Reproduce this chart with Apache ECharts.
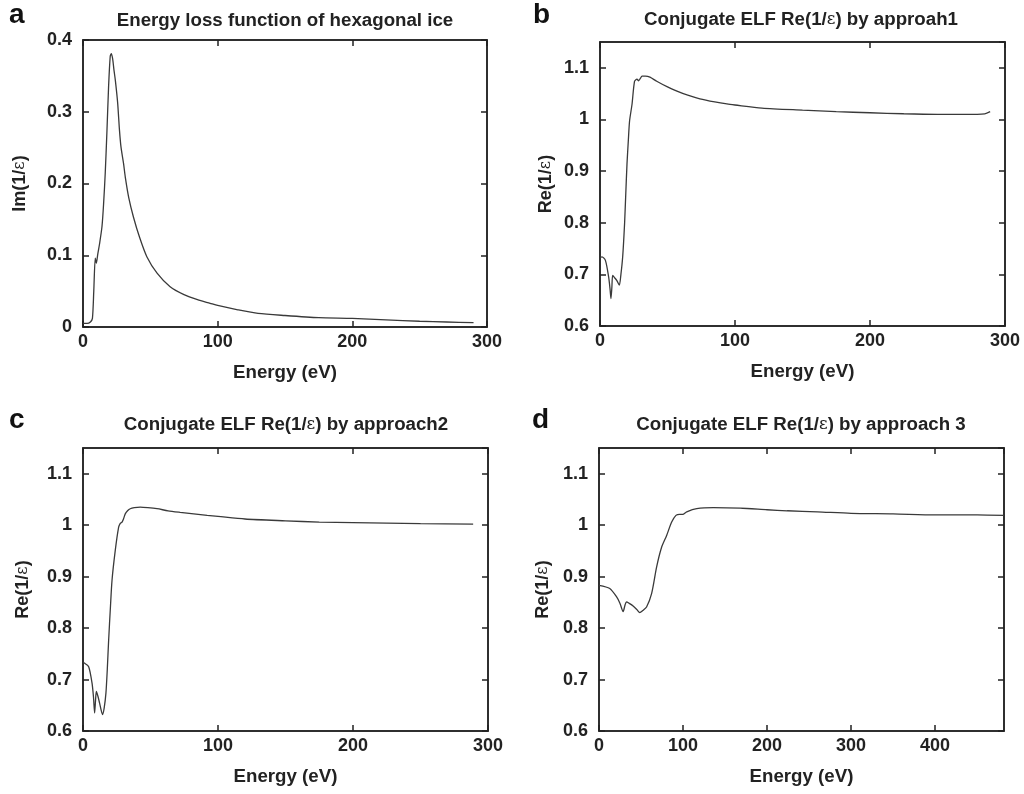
<!DOCTYPE html>
<html>
<head>
<meta charset="utf-8">
<script src="https://cdn.jsdelivr.net/npm/echarts@6/dist/echarts.min.js"></script>
<style>html,body{margin:0;padding:0;background:#fff}#c{width:1024px;height:794px}</style>
</head>
<body>
<div id="c"></div>
<script>
// Panel a: Energy loss function Im(1/eps)
const energyA = [0, 3, 5.5, 7, 8, 9.1, 9.9, 11, 12.3, 14.1, 15.3, 16.5, 17.8, 19, 20.2, 21, 22, 23, 24, 25.7, 27.1, 28.2, 30.1, 31.4, 34, 37.5, 42, 47.4, 55, 64.7, 75, 85, 94.4, 100, 115, 130, 150, 175, 200, 225, 250, 270, 290];
const valueA  = [0.005, 0.005, 0.007, 0.012, 0.05, 0.096, 0.089, 0.102, 0.116, 0.14, 0.172, 0.214, 0.274, 0.335, 0.377, 0.381, 0.374, 0.358, 0.344, 0.313, 0.274, 0.251, 0.228, 0.209, 0.18, 0.153, 0.125, 0.098, 0.075, 0.056, 0.045, 0.038, 0.033, 0.030, 0.024, 0.019, 0.016, 0.013, 0.012, 0.010, 0.008, 0.007, 0.006];
// Panel b: approach 1
const energyB = [0, 1.5, 4, 6.4, 7.5, 8.1, 8.8, 9.4, 11, 12.5, 14.3, 15.5, 16.8, 18.2, 19, 20, 21, 21.9, 23.7, 25.6, 27.4, 28.6, 30, 31.1, 33.6, 37, 42, 50, 57, 65, 74, 85, 94, 100, 120, 150, 175, 200, 225, 250, 270, 285, 289];
const valueB  = [0.733, 0.734, 0.727, 0.695, 0.67, 0.653, 0.675, 0.698, 0.693, 0.688, 0.679, 0.70, 0.734, 0.798, 0.85, 0.914, 0.96, 0.997, 1.029, 1.074, 1.078, 1.075, 1.08, 1.084, 1.084, 1.082, 1.074, 1.063, 1.055, 1.047, 1.040, 1.034, 1.030, 1.028, 1.022, 1.018, 1.015, 1.013, 1.011, 1.010, 1.010, 1.011, 1.015];
// Panel c: approach 2
const energyC = [0, 1, 4.2, 6.7, 7.8, 8.6, 9.3, 9.9, 11, 12.3, 13.5, 14.5, 15.7, 17, 18, 19, 20.3, 21.5, 23.9, 26.4, 27.5, 28.9, 30, 31.3, 33, 35, 38, 42.4, 48, 54.8, 63, 72, 82, 92, 100, 120, 150, 175, 200, 250, 289];
const valueC  = [0.733, 0.732, 0.725, 0.693, 0.665, 0.635, 0.66, 0.677, 0.668, 0.654, 0.64, 0.632, 0.645, 0.674, 0.72, 0.777, 0.84, 0.893, 0.951, 0.996, 1.003, 1.006, 1.012, 1.022, 1.028, 1.032, 1.034, 1.035, 1.034, 1.032, 1.028, 1.025, 1.022, 1.019, 1.017, 1.012, 1.0085, 1.006, 1.005, 1.003, 1.002];
// Panel d: approach 3
const energyD = [0, 12.8, 20.8, 25, 28.7, 31, 32.7, 36, 40.6, 45, 48.6, 52, 56.6, 62.6, 68.6, 74.5, 80.5, 86.5, 91.6, 96, 99.6, 104.4, 116.3, 136, 168, 200, 224, 260, 300, 350, 400, 450, 482];
const valueD  = [0.883, 0.877, 0.861, 0.848, 0.832, 0.845, 0.851, 0.848, 0.843, 0.836, 0.830, 0.834, 0.841, 0.867, 0.919, 0.957, 0.980, 1.006, 1.019, 1.021, 1.021, 1.026, 1.032, 1.034, 1.033, 1.030, 1.028, 1.026, 1.023, 1.022, 1.020, 1.020, 1.019];

const panelLetters = ['a', 'b', 'c', 'd'];
const panelTitles = [
  ['Energy loss function of hexagonal ice', null],
  ['Conjugate ELF Re(1/', ') by approah1'],
  ['Conjugate ELF Re(1/', ') by approach2'],
  ['Conjugate ELF Re(1/', ') by approach 3']
];
const yNames = [['Im(1/', ')'], ['Re(1/', ')'], ['Re(1/', ')'], ['Re(1/', ')']];
const xName = 'Energy (eV)';

const FONT = '"Liberation Sans", Arial, Helvetica, sans-serif';
const INK = '#222';
const eps = '\u03b5';

const grids = [
  {left: 83, top: 40, width: 404, height: 287},
  {left: 600, top: 42, width: 405, height: 284},
  {left: 83, top: 448, width: 405, height: 283},
  {left: 599, top: 448, width: 405, height: 283}
];
const xRanges = [[0, 300, 100], [0, 300, 100], [0, 300, 100], [0, 482, 100]];
const yRanges = [[0, 0.4, 0.1], [0.6, 1.15, 0.1], [0.6, 1.15, 0.1], [0.6, 1.15, 0.1]];
const yNameGaps = [54, 45, 51, 47];
const series = [[energyA, valueA], [energyB, valueB], [energyC, valueC], [energyD, valueD]];

function richStyle(size) {
  return {
    b: {fontFamily: FONT, fontWeight: 'bold', color: INK, fontSize: size},
    e: {fontFamily: '"DejaVu Serif", serif', fontWeight: 'normal', color: INK, fontSize: size - 2}
  };
}
function richText(parts) {
  if (parts[1] === null) return '{b|' + parts[0] + '}';
  return '{b|' + parts[0] + '}{e|' + eps + '}{b|' + parts[1] + '}';
}

const option = {
  animation: false,
  backgroundColor: '#fff',
  title: [],
  grid: grids.map(g => Object.assign({show: true, borderColor: INK, borderWidth: 1.5, backgroundColor: 'transparent'}, g)),
  xAxis: [],
  yAxis: [],
  series: []
};

const titleCenters = [[285, 21], [801, 20], [286, 425], [801, 425]];
const letterPos = [[9, 1], [533, 1], [9, 406], [532, 406]];

grids.forEach((g, i) => {
  option.title.push({
    text: richText(panelTitles[i]),
    left: titleCenters[i][0], top: titleCenters[i][1],
    textAlign: 'center', textVerticalAlign: 'middle',
    padding: 0,
    textStyle: {rich: richStyle(18.7)}
  });
  option.title.push({
    text: panelLetters[i],
    left: letterPos[i][0], top: letterPos[i][1], padding: 0,
    textStyle: {fontFamily: FONT, fontWeight: 'bold', fontSize: 28, color: '#111'}
  });
  const [xmin, xmax, xint] = xRanges[i];
  const [ymin, ymax, yint] = yRanges[i];
  const tickStyle = {show: true, inside: true, length: 6, lineStyle: {color: INK, width: 1.5}};
  option.xAxis.push({
    type: 'value', gridIndex: i, position: 'bottom', min: xmin, max: xmax, interval: xint,
    axisLine: {show: true, onZero: false, lineStyle: {color: INK, width: 1.5}},
    axisTick: tickStyle,
    splitLine: {show: false},
    axisLabel: {show: true, margin: 6, showMaxLabel: xmax % xint === 0, fontFamily: FONT, fontWeight: 'bold', fontSize: 18, color: INK},
    name: xName, nameLocation: 'middle', nameGap: 36,
    nameTextStyle: {fontFamily: FONT, fontWeight: 'bold', fontSize: 18.7, color: INK}
  });
  option.xAxis.push({
    type: 'value', gridIndex: i, position: 'top', min: xmin, max: xmax, interval: xint,
    axisLine: {show: true, onZero: false, lineStyle: {color: INK, width: 1.5}},
    axisTick: tickStyle, splitLine: {show: false}, axisLabel: {show: false}
  });
  option.yAxis.push({
    type: 'value', gridIndex: i, position: 'left', min: ymin, max: ymax, interval: yint,
    axisLine: {show: true, onZero: false, lineStyle: {color: INK, width: 1.5}},
    axisTick: tickStyle,
    splitLine: {show: false},
    axisLabel: {show: true, margin: 11, showMaxLabel: Math.abs(Math.round(ymax / yint) * yint - ymax) < 1e-9,
      fontFamily: FONT, fontWeight: 'bold', fontSize: 18, color: INK,
      formatter: v => String(Math.round(v * 100) / 100)},
    name: richText(yNames[i]), nameLocation: 'middle', nameGap: yNameGaps[i],
    nameTextStyle: {rich: richStyle(18)}
  });
  option.yAxis.push({
    type: 'value', gridIndex: i, position: 'right', min: ymin, max: ymax, interval: yint,
    axisLine: {show: true, onZero: false, lineStyle: {color: INK, width: 1.5}},
    axisTick: tickStyle, splitLine: {show: false}, axisLabel: {show: false}
  });
  const [ex, vy] = series[i];
  option.series.push({
    type: 'line', xAxisIndex: 2 * i, yAxisIndex: 2 * i,
    data: ex.map((e, k) => [e, vy[k]]),
    showSymbol: false, symbol: 'none', smooth: 0.25,
    lineStyle: {color: '#3a3a3a', width: 1.3}
  });
});

const chart = echarts.init(document.getElementById('c'), null, {renderer: 'canvas'});
chart.setOption(option);
</script>
</body>
</html>
